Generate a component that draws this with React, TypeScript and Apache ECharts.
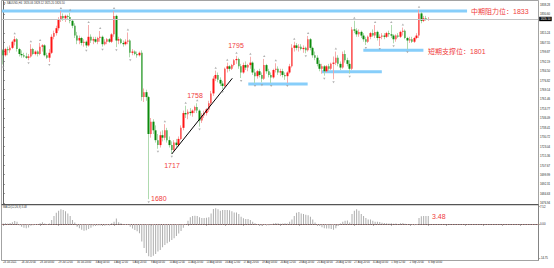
import React, { useEffect, useRef } from "react";
import * as echarts from "echarts";

// XAUUSD H4 candles, bar 0 = 23 Jul 2021 12:00
const opens = [
  1801,1797,1802,1801,1803,1808,1810,1802,1798,1797,
  1796,1795,1796,1802,1798,1800,1798,1804,1805,1797,
  1795,1799,1812,1815,1819,1826,1829,1827,1829,1828,
  1825,1821,1813,1809,1811,1807,1808,1805,1812,1809,
  1810,1808,1811,1812,1806,1808,1810,1808,1814,1829,
  1809,1810,1807,1806,1808,1809,1799,1800,1798,1797,
  1799,1763,1767,1763,1733,1743,1736,1728,1724,1732,
  1730,1736,1728,1724,1720,1726,1724,1729,1738,1750,
  1749,1751,1750,1752,1755,1752,1744,1748,1750,1753,
  1758,1766,1778,1781,1777,1774,1772,1786,1788,1786,
  1789,1793,1794,1788,1783,1789,1787,1789,1791,1783,
  1780,1784,1781,1778,1789,1784,1781,1779,1785,1786,
  1783,1784,1781,1780,1783,1788,1803,1805,1803,1804,
  1802,1803,1801,1810,1803,1797,1795,1790,1786,1788,
  1784,1788,1786,1790,1791,1795,1790,1787,1798,1793,
  1790,1786,1818,1817,1814,1816,1813,1810,1808,1812,
  1815,1813,1816,1811,1812,1813,1812,1815,1814,1813,
  1810,1813,1812,1816,1817,1811,1809,1810,1808,1811,
  1813,1831,1825,1827,1826,
];
const highs = [
  1802,1803,1804,1805,1809,1812.5,1811,1803,1801,1799,
  1799,1798,1806,1803,1801,1801,1807,1806,1806,1799,
  1802,1814,1817,1821,1828,1833,1831,1830,1830,1831.5,
  1826,1823,1816,1813,1812,1810,1809,1821.6,1814,1812,
  1812,1812,1816.7,1813,1810,1811,1811,1815,1833,1830,
  1812,1811,1809,1810,1815.5,1810,1802,1801,1800,1800,
  1801,1770,1769,1764,1746,1745,1740,1733,1735,1736,
  1741,1738,1731,1727,1728,1729,1731,1740,1752,1756,
  1753,1754,1753,1756,1758,1753,1750,1752,1754,1760,
  1768,1780,1784.5,1783,1779,1776,1787,1791,1789,1790,
  1794,1796.5,1795,1790,1791,1792,1790,1795.8,1792,1786,
  1785,1786,1783,1794,1790,1786,1783,1786,1790.5,1788,
  1786,1786,1783,1784,1790,1806,1808,1807,1806,1806,
  1805,1804,1812.7,1811,1804,1800,1797,1793,1790,1789,
  1789,1790,1791,1796,1800,1797,1792,1800,1801,1795,
  1793,1820,1825,1819,1818,1817,1815,1812,1813,1816,
  1818,1821.6,1817,1814,1815,1815,1816,1817,1821.6,1814,
  1814,1815,1817,1819.5,1818,1812,1812,1812,1812,1815,
  1834,1832,1829,1829,1828,
];
const lows = [
  1789.5,1796,1797,1799,1802,1805,1800,1796,1795,1795,
  1794,1793,1795,1797,1797,1796,1797,1800,1796,1794,
  1791.5,1798,1810,1813,1817,1824,1825,1824,1826,1823,
  1819,1811,1806,1806,1805,1804,1803,1804,1807,1806,
  1807,1806,1808,1804,1805,1806,1807,1807,1812,1803.6,
  1806,1806,1804,1805,1806,1795.3,1797,1797,1795,1796,
  1760,1759,1760,1680,1730,1733,1726,1721,1722,1727,
  1728,1726,1722,1717,1719,1722,1723,1728,1736,1746,
  1745,1748,1747,1750,1750,1739,1742,1746,1748,1751,
  1756,1764,1776,1775,1772,1769.6,1771,1783,1784,1785,
  1788,1790,1786,1778.5,1782,1785,1784,1786,1781,1774.5,
  1778,1779,1775,1777,1782,1779,1774.5,1778,1783,1781,
  1780,1779,1777,1774.5,1782,1787,1800,1801,1800,1801,
  1799,1798.6,1800,1801,1795,1793,1788,1784,1782,1780.4,
  1783,1784,1785,1777.5,1789,1788,1785,1786,1791,1788,
  1782,1785,1815,1812,1812,1811,1808,1805.3,1807,1810,
  1812,1811,1809,1804.5,1810,1810,1811,1812,1811,1806.7,
  1808,1811,1811,1813,1810,1801.8,1807,1807,1807,1810,
  1811,1823,1824,1825,1825,
];
const closes = [
  1797,1802,1801,1803,1808,1810,1802,1798,1797,1796,
  1795,1796,1802,1798,1800,1798,1804,1805,1797,1795,
  1799,1812,1815,1819,1826,1829,1827,1829,1828,1825,
  1821,1813,1809,1811,1807,1808,1805,1812,1809,1810,
  1808,1811,1812,1806,1808,1810,1808,1814,1829,1809,
  1810,1807,1806,1808,1809,1799,1800,1798,1797,1799,
  1763,1767,1763,1733,1743,1736,1728,1724,1732,1730,
  1736,1728,1724,1720,1726,1724,1729,1738,1750,1749,
  1751,1750,1752,1755,1752,1744,1748,1750,1753,1758,
  1766,1778,1781,1777,1774,1772,1786,1788,1786,1789,
  1793,1794,1788,1783,1789,1787,1789,1791,1783,1780,
  1784,1781,1778,1789,1784,1781,1779,1785,1786,1783,
  1784,1781,1780,1783,1788,1803,1805,1803,1804,1802,
  1803,1801,1810,1803,1797,1795,1790,1786,1788,1784,
  1788,1786,1790,1791,1795,1790,1787,1798,1793,1790,
  1786,1818,1817,1814,1816,1813,1810,1808,1812,1815,
  1813,1816,1811,1812,1813,1812,1815,1814,1813,1810,
  1813,1812,1816,1817,1811,1809,1810,1808,1811,1813,
  1831,1825,1827,1826,1826.5,
];
// MACD(12,26,9) histogram
const macd = [
  0.2,0.3,0.2,0.4,0.8,1.3,1.0,-0.5,-1.2,-1.6,
  -1.9,-1.5,-0.8,-0.5,-0.4,-0.3,0.3,0.8,0.2,-0.3,
  0.2,1.7,3.5,4.9,5.8,6.4,6.1,5.5,4.6,3.5,
  1.7,0.6,-1.2,-1.8,-2.5,-2.9,-2.7,-2.2,-1.6,-1.0,
  -0.8,-0.7,-0.6,-0.9,-0.8,-0.5,-0.6,0.3,1.0,2.4,
  0.8,0.3,-0.2,-0.4,-0.3,-1.2,-2.0,-2.6,-3.2,-4.0,
  -7.6,-10.4,-12.6,-14.0,-14.3,-13.8,-13.0,-12.0,-11.3,-10.1,
  -9.1,-8.4,-7.7,-7.0,-6.2,-5.2,-4.1,-3.0,-1.6,-0.2,
  1.4,2.9,3.5,3.6,3.5,2.9,2.6,2.6,2.7,2.9,
  4.6,6.5,6.8,6.4,5.8,6.1,6.1,6.1,6.0,5.5,
  5.0,5.0,4.3,3.2,2.5,2.2,2.2,1.7,1.0,0.3,
  -0.3,-0.9,-0.8,-0.4,-0.6,-0.5,-0.3,0.2,0.4,0.3,
  0.1,0.2,0.3,0.2,1.0,2.0,3.5,4.9,5.2,4.6,
  4.3,4.0,3.8,3.2,2.0,0.6,-0.4,-0.9,-1.4,-1.9,
  -2.0,-2.0,-2.2,-2.5,-1.9,-0.9,0.2,1.0,1.4,1.5,
  0.6,4.3,5.8,6.4,5.8,4.3,3.5,2.6,2.0,2.0,
  1.4,1.0,1.0,0.9,0.5,0.4,0.3,0.2,0.3,0.1,
  0.2,0.0,0.3,0.4,0.1,-0.2,0.0,-0.3,-0.5,-0.3,
  2.6,3.4,3.5,3.5,3.48,
];
const fractalUp = [5,12,16,25,29,37,42,48,54,70,79,84,92,97,101,107,113,118,126,132,144,152,161,168,173,180];
const fractalDown = [0,11,20,36,43,49,55,63,67,73,85,95,103,109,112,116,123,131,139,143,150,157,163,169,175];

const xTickLabels = [
  "23 Jul 2021","26 Jul 20:00","28 Jul 04:00","29 Jul 12:00","30 Jul 20:00","3 Aug 04:00",
  "4 Aug 12:00","5 Aug 20:00","9 Aug 04:00","10 Aug 12:00","11 Aug 20:00","13 Aug 04:00",
  "16 Aug 12:00","17 Aug 20:00","19 Aug 04:00","20 Aug 12:00","23 Aug 20:00","25 Aug 04:00",
  "26 Aug 12:00","27 Aug 20:00","31 Aug 04:00","1 Sep 12:00","2 Sep 20:00","6 Sep 04:00",
];
const priceTicks = [
  1838.28,1830.6,1815.24,1807.55,1799.87,1792.19,1784.5,1776.82,1769.14,1761.46,
  1753.77,1746.09,1738.41,1730.72,1723.04,1715.36,1707.67,1699.99,1692.31,1684.63,1676.94,
];
const macdTicks = [7.52, 0, -14.75];

// horizontal levels: [fromBar, toBar, price]
const resistanceLine = [-0.5, 200.8, 1833];
const supportLines = [
  [106.1, 131.8, 1773.6],
  [137.9, 163.9, 1783.6],
  [155.9, 181.9, 1801],
];
// trend line: [bar, price]
const trendLine = [[72.96, 1716.7], [99.2, 1778.3]];

const SLOTS = 232;
const TICK_EVERY = 8;

const FONT = '"Liberation Sans", "Noto Sans CJK SC", sans-serif';
const RED_TEXT = "#f03c3c";

export default function App() {
  const ref = useRef<HTMLDivElement>(null);
  useEffect(() => {
    if (!ref.current) return;
    const chart = echarts.init(ref.current, undefined, { renderer: "svg", width: 554, height: 268 });
    const cats = Array.from({ length: SLOTS }, (_, i) => String(i));
    const wickData = opens.map((o, i) => [o, closes[i], lows[i], highs[i]]);
    const bodyData = opens.map((o, i) => [o, closes[i], Math.min(o, closes[i]), Math.max(o, closes[i])]);
    const lastClose = closes[closes.length - 1];

    const levelSeries = [resistanceLine, ...supportLines].map((l) => ({
      type: "line",
      xAxisIndex: 1,
      yAxisIndex: 0,
      data: [[l[0], l[2]], [l[1], l[2]]],
      symbol: "none",
      silent: true,
      z: 1,
      lineStyle: { color: "#87cefa", width: 3 },
    }));

    const texts = [
      { t: "中期阻力位：1833", x: 471, y: 11, a: "left" },
      { t: "短期支撑位：1801", x: 428, y: 51, a: "left" },
      { t: "1795", x: 236, y: 45, a: "center" },
      { t: "1758", x: 195, y: 95, a: "center" },
      { t: "1717", x: 172, y: 165, a: "center" },
      { t: "1680", x: 151, y: 198, a: "left" },
      { t: "3.48", x: 432, y: 216, a: "left" },
    ].map((d) => ({
      type: "text",
      x: d.x,
      y: d.y,
      z: 100,
      style: { text: d.t, fill: RED_TEXT, fontSize: 7, fontFamily: FONT, align: d.a, verticalAlign: "middle" },
    }));

    const option: any = {
      animation: false,
      backgroundColor: "#ffffff",
      grid: [
        { left: 2, right: 16, top: 1, height: 203 },
        { left: 2, right: 16, top: 205, height: 55 },
      ],
      xAxis: [
        {
          type: "category", gridIndex: 0, data: cats, boundaryGap: true,
          axisLine: { show: false }, axisTick: { show: false }, axisLabel: { show: false }, splitLine: { show: false },
        },
        { type: "value", gridIndex: 0, min: -0.5, max: SLOTS - 0.5, show: false },
        {
          type: "category", gridIndex: 1, data: cats, boundaryGap: true,
          axisLine: { show: true, lineStyle: { color: "#666", width: 1 } },
          axisTick: { show: true, interval: TICK_EVERY - 1, alignWithLabel: true, length: 1.5, lineStyle: { color: "#666" } },
          axisLabel: {
            interval: TICK_EVERY - 1, align: "left", margin: 1.5, fontSize: 2.6, color: "#222", fontFamily: FONT,
            formatter: (_v: string, idx: number) => (idx % TICK_EVERY === 0 ? xTickLabels[idx / TICK_EVERY] ?? "" : ""),
          },
          splitLine: { show: false },
        },
      ],
      yAxis: [
        {
          type: "value", gridIndex: 0, position: "right", min: 1676.1, max: 1841.1,
          splitLine: { show: false },
          axisLine: { show: true, lineStyle: { color: "#666" } },
          axisTick: { show: true, length: 1.5, customValues: priceTicks, lineStyle: { color: "#666" } },
          axisLabel: { customValues: priceTicks, formatter: (v: number) => v.toFixed(2), fontSize: 2.8, margin: 2, color: "#222", fontFamily: FONT },
        },
        {
          type: "value", gridIndex: 1, position: "right", min: -15.65, max: 8.26,
          splitLine: { show: false },
          axisLine: { show: true, lineStyle: { color: "#666" } },
          axisTick: { show: true, length: 1.5, customValues: macdTicks, lineStyle: { color: "#666" } },
          axisLabel: { customValues: macdTicks, formatter: (v: number) => v.toFixed(2), fontSize: 2.8, margin: 2, color: "#222", fontFamily: FONT },
        },
      ],
      series: [
        ...levelSeries,
        {
          type: "candlestick", xAxisIndex: 0, yAxisIndex: 0, data: wickData, barWidth: 0.8, z: 2,
          itemStyle: { color: "#f5a3a3", color0: "#a6d6a6", borderColor: "#f5a3a3", borderColor0: "#a6d6a6", borderWidth: 0.9 },
          markLine: {
            silent: true, symbol: ["none", "none"], data: [{ yAxis: lastClose }],
            lineStyle: { color: "#c4c4c4", width: 1, type: "solid" },
            label: {
              show: true, position: "end", formatter: lastClose.toFixed(2), color: "#fff", backgroundColor: "#000",
              fontSize: 2.8, padding: [0.8, 1.2], distance: 1.2, fontFamily: FONT,
            },
          },
        },
        {
          type: "candlestick", xAxisIndex: 0, yAxisIndex: 0, data: bodyData, barWidth: 2, z: 3,
          itemStyle: { color: "#ff1414", color0: "#0b8a0b", borderColor: "#ff1414", borderColor0: "#0b8a0b", borderWidth: 0 },
        },
        {
          type: "line", xAxisIndex: 1, yAxisIndex: 0, data: trendLine, symbol: "none", silent: true, z: 4,
          lineStyle: { color: "#000", width: 1 },
        },
        {
          type: "scatter", xAxisIndex: 0, yAxisIndex: 0, z: 5, silent: true,
          data: fractalUp.map((i) => [i, highs[i]]),
          symbol: "triangle", symbolSize: [2.4, 2], symbolOffset: [0, -3],
          itemStyle: { color: "#9c9c9c" },
        },
        {
          type: "scatter", xAxisIndex: 0, yAxisIndex: 0, z: 5, silent: true,
          data: fractalDown.map((i) => [i, lows[i]]),
          symbol: "triangle", symbolRotate: 180, symbolSize: [2.4, 2], symbolOffset: [0, 3],
          itemStyle: { color: "#9c9c9c" },
        },
        {
          type: "bar", xAxisIndex: 2, yAxisIndex: 1, data: macd, barWidth: 1, z: 2,
          itemStyle: { color: "#adadad" },
          markLine: {
            silent: true, symbol: ["none", "none"], data: [{ yAxis: 0 }], label: { show: false },
            lineStyle: { color: "#ff9c9c", width: 0.6, type: [1, 1.5] },
          },
        },
      ],
      graphic: [
        { type: "rect", z: 50, shape: { x: 1.5, y: 0.5, width: 537, height: 260 }, style: { fill: "none", stroke: "#8c8c8c", lineWidth: 0.8 } },
        { type: "line", z: 50, shape: { x1: 1.5, y1: 204.6, x2: 538.5, y2: 204.6 }, style: { stroke: "#555", lineWidth: 1.2 } },
        {
          type: "text", x: 4, y: 4, z: 60,
          style: { text: "▾ XAUUSD,H4  1826.06 1828.12 1825.20 1826.50", fill: "#333", fontSize: 2.7, fontFamily: FONT, verticalAlign: "middle" },
        },
        {
          type: "text", x: 3, y: 207.5, z: 60,
          style: { text: "MACD(12,26,9) 3.48", fill: "#333", fontSize: 2.6, fontFamily: FONT, verticalAlign: "middle" },
        },
        ...texts,
      ],
    };
    chart.setOption(option);
    return () => chart.dispose();
  }, []);
  return <div ref={ref} style={{ position: "fixed", left: 0, top: 0, width: 554, height: 268, background: "#fff" }} />;
}
